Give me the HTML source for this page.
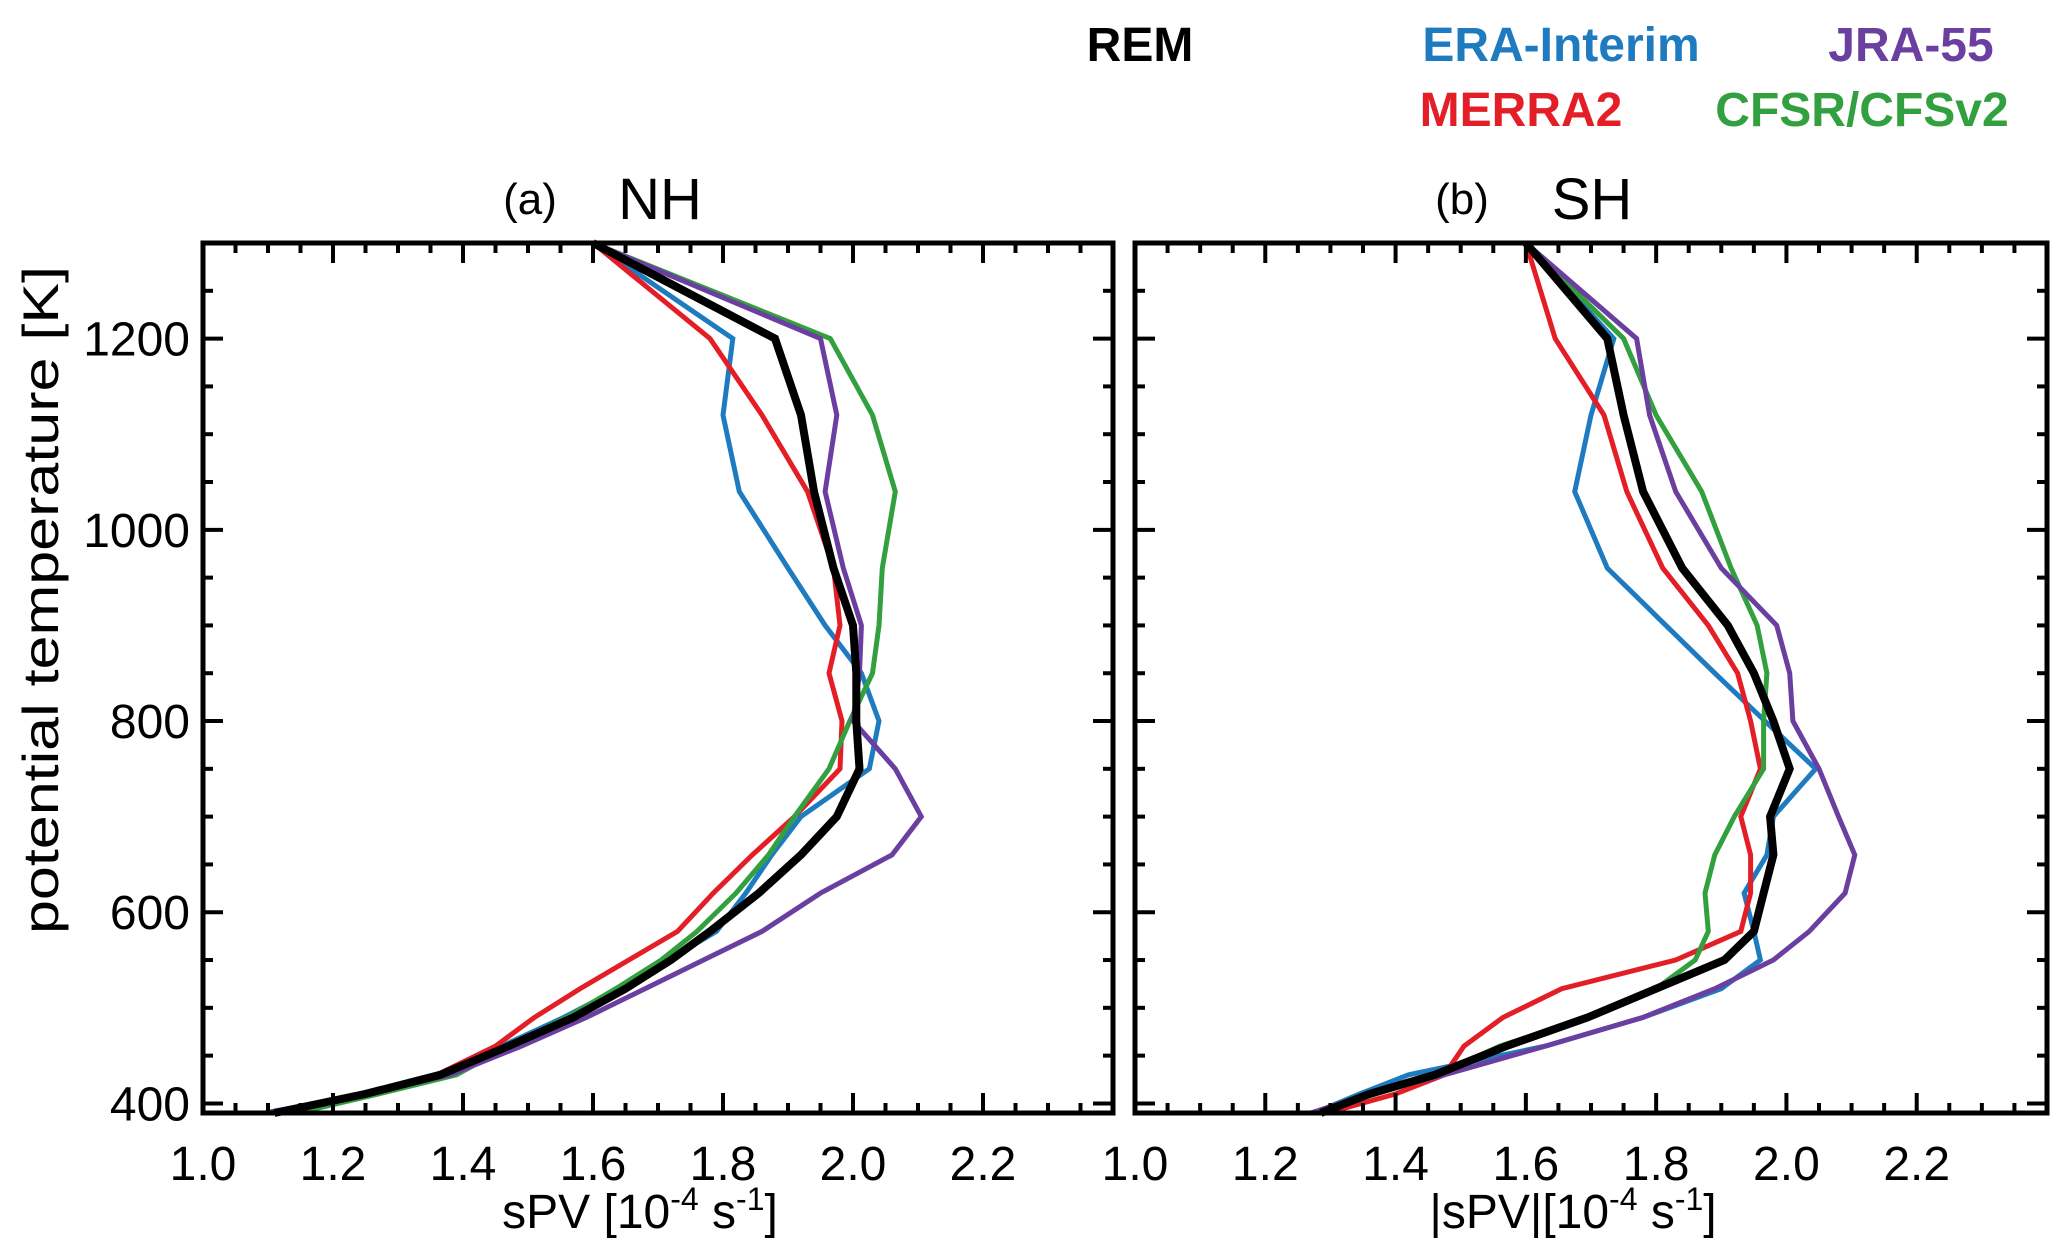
<!DOCTYPE html>
<html><head><meta charset="utf-8"><style>
html,body{margin:0;padding:0;background:#fff}
svg{display:block}
text{font-family:"Liberation Sans",Arial,sans-serif}
</style></head><body>
<svg id="chart" width="2067" height="1255" viewBox="0 0 2067 1255" xmlns="http://www.w3.org/2000/svg">
<g id="legend" font-weight="bold" font-size="48">
<text x="1140" y="61" text-anchor="middle" fill="#000">REM</text>
<text x="1561" y="61" text-anchor="middle" fill="#1f7bc0">ERA-Interim</text>
<text x="1911" y="61" text-anchor="middle" fill="#6b3fa0">JRA-55</text>
<text x="1521" y="126" text-anchor="middle" fill="#e41e26">MERRA2</text>
<text x="1862" y="126" text-anchor="middle" fill="#33a040">CFSR/CFSv2</text>
</g>
</svg>
<script>
const levels=[1300,1200,1120,1040,960,900,850,800,750,700,660,620,580,550,520,490,460,430,410,390];
const xTicks=[1.0,1.2,1.4,1.6,1.8,2.0,2.2];
const yTicks=[400,600,800,1000,1200];
// NH (panel a)
const nhREM=[1.60,1.88,1.92,1.94,1.97,2.00,2.005,2.005,2.01,1.975,1.92,1.855,1.78,1.72,1.65,1.57,1.47,1.365,1.25,1.11];
const nhERA=[1.60,1.815,1.80,1.825,1.90,1.957,2.013,2.04,2.025,1.92,1.875,1.835,1.79,1.715,1.64,1.555,1.46,1.37,1.25,1.105];
const nhMERRA=[1.60,1.78,1.86,1.93,1.97,1.98,1.963,1.983,1.98,1.91,1.845,1.785,1.73,1.655,1.58,1.51,1.45,1.36,1.25,1.11];
const nhCFSR=[1.60,1.965,2.03,2.065,2.045,2.04,2.03,1.995,1.963,1.91,1.87,1.82,1.76,1.705,1.635,1.56,1.47,1.39,1.27,1.145];
const nhJRA=[1.60,1.95,1.975,1.957,1.985,2.013,2.01,2.0,2.065,2.105,2.06,1.95,1.86,1.77,1.68,1.59,1.49,1.38,1.25,1.095];
// SH (panel b)
const shREM=[1.60,1.725,1.75,1.78,1.84,1.91,1.95,1.98,2.005,1.975,1.98,1.965,1.95,1.905,1.80,1.695,1.57,1.46,1.36,1.285];
const shERA=[1.60,1.735,1.70,1.675,1.725,1.815,1.89,1.967,2.045,1.98,1.97,1.935,1.95,1.96,1.90,1.78,1.63,1.42,1.345,1.275];
const shMERRA=[1.60,1.645,1.72,1.755,1.81,1.88,1.925,1.945,1.96,1.93,1.945,1.945,1.93,1.83,1.655,1.565,1.505,1.475,1.40,1.295];
const shCFSR=[1.60,1.75,1.80,1.87,1.915,1.955,1.97,1.965,1.965,1.92,1.89,1.875,1.88,1.86,1.80,1.695,1.56,1.465,1.37,1.27];
const shJRA=[1.60,1.77,1.79,1.83,1.90,1.985,2.005,2.01,2.05,2.08,2.105,2.09,2.035,1.98,1.89,1.78,1.63,1.475,1.36,1.27];

const NS='http://www.w3.org/2000/svg';
const svg=document.getElementById('chart');
const XMIN=1.0,XMAX=2.4,YMIN=390,YMAX=1300;
const TOP=243,BOT=1113;
function mk(tag,attrs,parent){const e=document.createElementNS(NS,tag);for(const k in attrs)e.setAttribute(k,attrs[k]);(parent||svg).appendChild(e);return e;}

function panel(id,left,right,tag,title,xlab,series){
  const g=mk('g',{});
  
  
  const xs=v=>left+(v-XMIN)/(XMAX-XMIN)*(right-left);
  const ys=v=>BOT-(v-YMIN)/(YMAX-YMIN)*(BOT-TOP);
  series.forEach(s=>{
    const d=s.vals.map((v,i)=>(i?'L':'M')+xs(v).toFixed(1)+','+ys(levels[i]).toFixed(1)).join(' ');
    const p=mk('path',{d:d,fill:'none',stroke:s.color,'stroke-width':s.w,'stroke-linejoin':'miter'},g);
    
    
  });
  const tg=mk('g',{stroke:'#000','stroke-width':4},g);
  for(let v=1.0;v<=XMAX+1e-6;v+=0.05){
    const major=Math.abs(Math.round(v*10)/10-v)<1e-6 && Math.round(v*10)%2===0;
    const L=major?20:10;const x=xs(v);
    mk('line',{x1:x,y1:BOT,x2:x,y2:BOT-L},tg);
    mk('line',{x1:x,y1:TOP,x2:x,y2:TOP+L},tg);
  }
  for(let v=400;v<=1300;v+=50){
    const major=v%200===0;const L=major?20:10;const y=ys(v);
    mk('line',{x1:left,y1:y,x2:left+L,y2:y},tg);
    mk('line',{x1:right,y1:y,x2:right-L,y2:y},tg);
  }
  const fr=mk('rect',{x:left,y:TOP,width:right-left,height:BOT-TOP,fill:'none',stroke:'#000','stroke-width':5},g);
  
  
  xTicks.forEach(v=>{
    const t=mk('text',{x:xs(v),y:1180,'text-anchor':'middle','font-size':48},g);
    t.textContent=v.toFixed(1);
    
    
  });
  const xl=mk('text',{x:(left+right)/2-18,y:1228,'text-anchor':'middle','font-size':48},g);
  xl.innerHTML=xlab;
  
  
  const t1=mk('text',{x:left+327,y:214,'text-anchor':'middle','font-size':44},g);
  t1.textContent=tag;
  
  
  const t2=mk('text',{x:left+457,y:219,'text-anchor':'middle','font-size':58},g);
  t2.textContent=title;
  
  
  return {xs,ys,g};
}
const cols={rem:'#000',era:'#1f7bc0',merra:'#e41e26',cfsr:'#33a040',jra:'#6b3fa0'};
const sup='[10<tspan dy="-18" font-size="32">-4</tspan><tspan dy="18"> s</tspan><tspan dy="-18" font-size="32">-1</tspan><tspan dy="18">]</tspan>';
const a=panel('panel-nh',203,1113,'(a)','NH','sPV '+sup,[
 {name:'nh-era-interim-line',vals:nhERA,color:cols.era,w:5},
 {name:'nh-merra2-line',vals:nhMERRA,color:cols.merra,w:5},
 {name:'nh-cfsr-line',vals:nhCFSR,color:cols.cfsr,w:5},
 {name:'nh-jra55-line',vals:nhJRA,color:cols.jra,w:5},
 {name:'nh-rem-line',vals:nhREM,color:cols.rem,w:8}]);
const b=panel('panel-sh',1135,2047,'(b)','SH','|sPV|'+sup,[
 {name:'sh-era-interim-line',vals:shERA,color:cols.era,w:5},
 {name:'sh-merra2-line',vals:shMERRA,color:cols.merra,w:5},
 {name:'sh-cfsr-line',vals:shCFSR,color:cols.cfsr,w:5},
 {name:'sh-jra55-line',vals:shJRA,color:cols.jra,w:5},
 {name:'sh-rem-line',vals:shREM,color:cols.rem,w:8}]);
yTicks.forEach(v=>{
  const t=mk('text',{x:190,y:a.ys(v)+17,'text-anchor':'end','font-size':48});
  t.textContent=v;
  
  
});
const yl=mk('text',{x:0,y:0,'text-anchor':'middle','font-size':50,textLength:668,lengthAdjust:'spacingAndGlyphs',transform:'translate(58,600) rotate(-90)'});
yl.textContent='potential temperature [K]';


</script>
</body></html>
